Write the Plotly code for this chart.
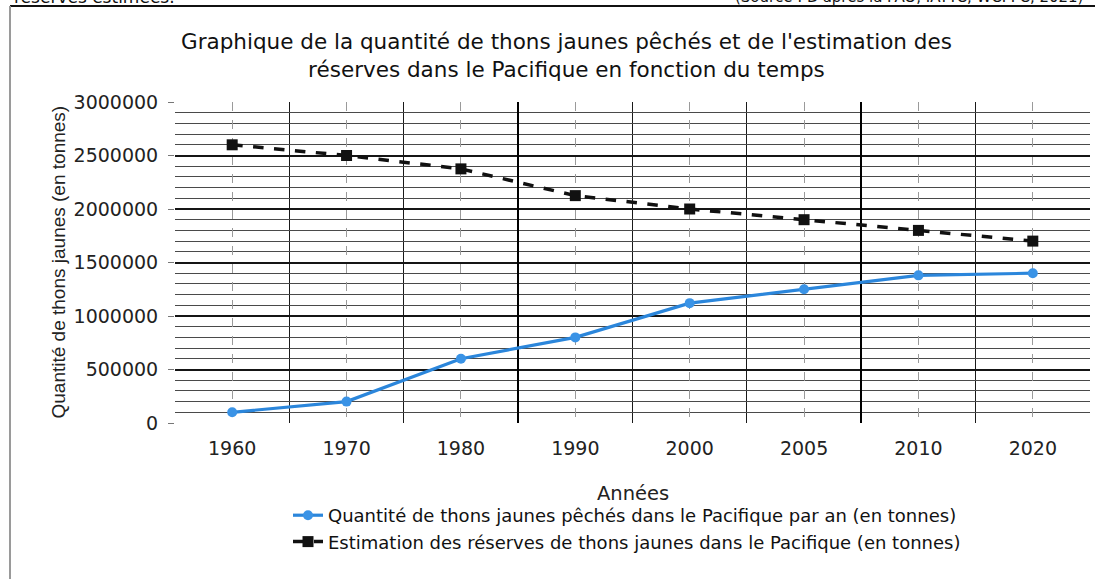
import plotly.graph_objects as go

# ---- data ----
years = ["1960", "1970", "1980", "1990", "2000", "2005", "2010", "2020"]
catch_tonnes = [100000, 200000, 600000, 800000, 1120000, 1250000, 1380000, 1400000]
reserves_tonnes = [2600000, 2500000, 2375000, 2125000, 2000000, 1900000, 1800000, 1700000]
y_tick_vals = [0, 500000, 1000000, 1500000, 2000000, 2500000, 3000000]
y_tick_text = ["0", "500000", "1000000", "1500000", "2000000", "2500000", "3000000"]

name_catch = "Quantité de thons jaunes pêchés dans le Pacifique par an (en tonnes)"
name_res = "Estimation des réserves de thons jaunes dans le Pacifique (en tonnes)"
title_txt = ("Graphique de la quantité de thons jaunes pêchés et de l'estimation des"
             "<br>réserves dans le Pacifique en fonction du temps")

W, H = 1095, 579
L, R, T, B = 175, 5, 102, 156
PW, PH = W - L - R, H - T - B


def px(xp):
    return (xp - L) / PW


def py(yp):
    return (H - B - yp) / PH


xpos = list(range(len(years)))
n = len(years)

fig = go.Figure()
fig.add_trace(go.Scatter(
    x=xpos, y=catch_tonnes, name=name_catch, mode="lines+markers",
    line=dict(color="#2B86DB", width=3.2),
    marker=dict(symbol="circle", size=10, color="#3A93E6"),
))
fig.add_trace(go.Scatter(
    x=xpos, y=reserves_tonnes, name=name_res, mode="lines+markers",
    line=dict(color="#111111", width=3.5, dash="dash"),
    marker=dict(symbol="square", size=11, color="#111111"),
))

sans = "DejaVu Sans"
fig.update_layout(
    width=W, height=H,
    margin=dict(l=L, r=R, t=T, b=B),
    paper_bgcolor="white", plot_bgcolor="white",
    showlegend=True,
    legend=dict(
        x=px(288), y=py(497), xanchor="left", yanchor="top",
        orientation="v", bgcolor="rgba(0,0,0,0)",
        font=dict(family=sans, size=18, color="#111"),
        tracegroupgap=0, itemwidth=30,
    ),
    xaxis=dict(
        range=[-0.5, n - 0.5],
        tickmode="array", tickvals=xpos, ticktext=years,
        showgrid=True, gridcolor="#9a9a9a", gridwidth=1, griddash="dash",
        minor=dict(tickmode="array", tickvals=[i + 0.5 for i in range(-1, n)],
                   showgrid=True, gridcolor="#1a1a1a", gridwidth=1.3, griddash="solid"),
        ticks="", zeroline=False, showline=False, ticklabelstandoff=12,
        tickfont=dict(family=sans, size=19, color="#222"),
    ),
    xaxis2=dict(
        overlaying="x", matches="x", range=[-0.5, n - 0.5],
        tickmode="array", tickvals=[2.5, 5.5], showticklabels=False,
        showgrid=True, gridcolor="#000", gridwidth=2.2, ticks="",
        zeroline=False, showline=False,
    ),
    yaxis=dict(
        range=[0, 3000000],
        tickmode="array", tickvals=y_tick_vals, ticktext=y_tick_text,
        showgrid=True, gridcolor="#151515", gridwidth=1.5,
        minor=dict(dtick=100000, tick0=0, showgrid=True, gridcolor="#4a4a4a", gridwidth=1),
        ticks="outside", ticklen=6, tickcolor="#777", ticklabelstandoff=6,
        zeroline=False, showline=False,
        tickfont=dict(family=sans, size=19, color="#222"),
    ),
)

# invisible trace so the overlay axis exists
fig.add_trace(go.Scatter(x=[xpos[0]], y=[catch_tonnes[0]], xaxis="x2", mode="markers",
                         marker=dict(opacity=0), showlegend=False, hoverinfo="skip"))

ann = [
    dict(text=title_txt, x=px(566), y=py(55), xref="paper", yref="paper",
         xanchor="center", yanchor="middle", showarrow=False,
         font=dict(family=sans, size=21.5, color="#111")),
    dict(text="Quantité de thons jaunes (en tonnes)", x=px(58), y=0.5,
         xref="paper", yref="paper", textangle=-90, xanchor="center", yanchor="middle",
         showarrow=False, font=dict(family="Liberation Sans", size=19, color="#222")),
    dict(text="Années", x=0.5, y=py(493), xref="paper", yref="paper",
         xanchor="center", yanchor="middle", showarrow=False,
         font=dict(family=sans, size=19.5, color="#222")),
    dict(text="réserves estimées.", x=px(12), y=py(-3), xref="paper", yref="paper",
         xanchor="left", yanchor="middle", showarrow=False,
         font=dict(family=sans, size=17, color="#111")),
    dict(text="(Source : D'après la FAO, IATTC, WCPFC, 2021)", x=px(1085), y=py(-3),
         xref="paper", yref="paper", xanchor="right", yanchor="middle", showarrow=False,
         font=dict(family=sans, size=15, color="#111")),
]
fig.update_layout(annotations=ann)

fig.update_layout(shapes=[
    dict(type="line", xref="paper", yref="paper", x0=px(10), x1=px(1095),
         y0=py(6), y1=py(6), line=dict(color="#111", width=2)),
    dict(type="line", xref="paper", yref="paper", x0=px(10), x1=px(10),
         y0=py(6), y1=py(579), line=dict(color="#9a9a9a", width=2)),
])

fig.write_html("out.html", config={"displayModeBar": False},
               post_script="document.body.style.margin='0';document.body.style.padding='0';")
